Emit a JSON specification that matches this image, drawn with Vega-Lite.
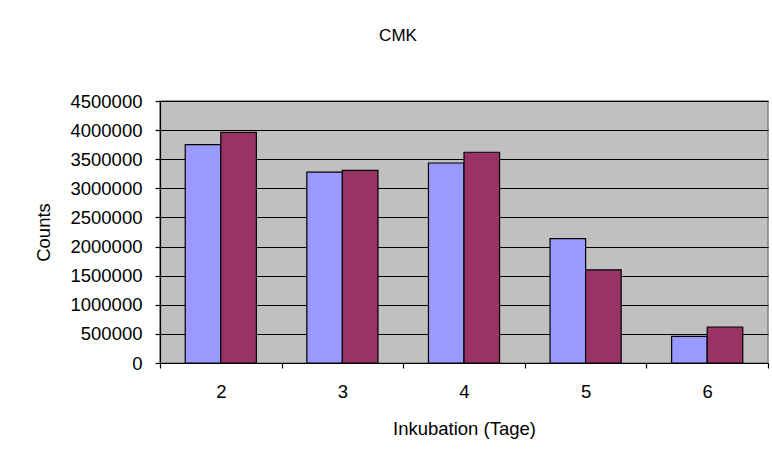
{
  "$schema": "https://vega.github.io/schema/vega-lite/v6.json",
  "width": 608,
  "height": 262,
  "autosize": {"type": "none"},
  "padding": {"left": 160, "top": 101, "right": 4, "bottom": 101},
  "background": "white",
  "title": {
    "text": "CMK",
    "anchor": "middle",
    "dx": -66,
    "offset": 34,
    "baseline": "alphabetic",
    "font": "Liberation Sans",
    "fontSize": 17,
    "fontWeight": "normal",
    "color": "black"
  },
  "data": {
    "values": [
      {"tag": "2", "serie": "Serie 1", "counts": 3750000},
      {"tag": "2", "serie": "Serie 2", "counts": 3960000},
      {"tag": "3", "serie": "Serie 1", "counts": 3280000},
      {"tag": "3", "serie": "Serie 2", "counts": 3310000},
      {"tag": "4", "serie": "Serie 1", "counts": 3435000},
      {"tag": "4", "serie": "Serie 2", "counts": 3620000},
      {"tag": "5", "serie": "Serie 1", "counts": 2135000},
      {"tag": "5", "serie": "Serie 2", "counts": 1600000},
      {"tag": "6", "serie": "Serie 1", "counts": 457000},
      {"tag": "6", "serie": "Serie 2", "counts": 618000}
    ]
  },
  "mark": {"type": "bar", "stroke": "black", "strokeWidth": 1.2},
  "encoding": {
    "x": {
      "field": "tag",
      "type": "nominal",
      "scale": {"paddingInner": 0, "paddingOuter": 0},
      "axis": {
        "title": "Inkubation (Tage)",
        "labelAngle": 0,
        "tickBand": "extent",
        "labelPadding": 14,
        "titlePadding": 19,
        "grid": false
      }
    },
    "xOffset": {
      "field": "serie",
      "type": "nominal",
      "scale": {"paddingInner": 0, "paddingOuter": 0.71}
    },
    "y": {
      "field": "counts",
      "type": "quantitative",
      "scale": {"domain": [0, 4500000], "nice": false},
      "axis": {
        "title": "Counts",
        "values": [0, 500000, 1000000, 1500000, 2000000, 2500000, 3000000, 3500000, 4000000, 4500000],
        "format": "d",
        "grid": true,
        "gridColor": "black",
        "gridOpacity": 1,
        "gridWidth": 1,
        "labelPadding": 13,
        "titlePadding": 16
      }
    },
    "color": {
      "field": "serie",
      "type": "nominal",
      "scale": {"range": ["#9999FF", "#993366"]},
      "legend": null
    }
  },
  "config": {
    "view": {"fill": "#C0C0C0", "stroke": "#808080", "strokeWidth": 1.5},
    "axis": {
      "domainColor": "black",
      "domainWidth": 1.2,
      "tickColor": "black",
      "tickSize": 5,
      "tickWidth": 1.2,
      "labelFont": "Liberation Sans",
      "labelFontSize": 18.5,
      "labelColor": "black",
      "titleFont": "Liberation Sans",
      "titleFontSize": 18.5,
      "titleFontWeight": "normal",
      "titleColor": "black"
    }
  }
}
